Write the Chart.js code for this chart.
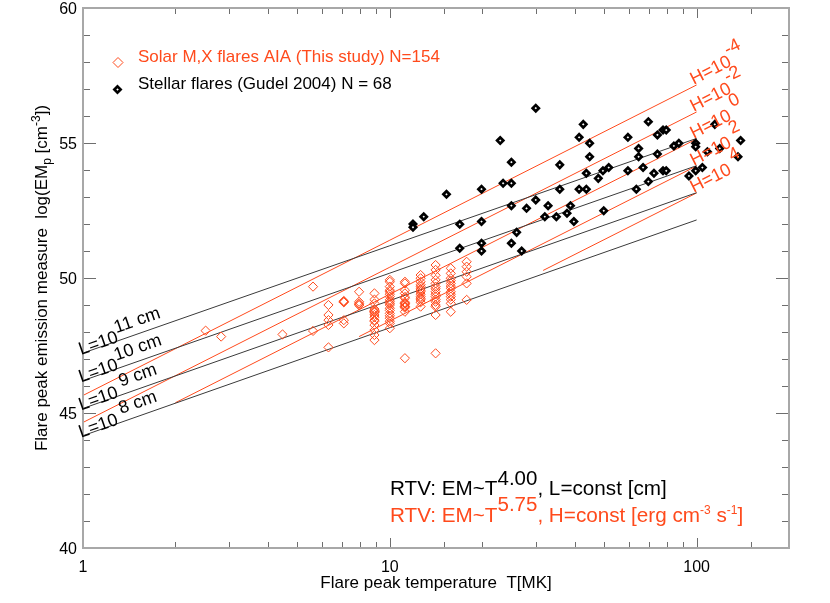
<!DOCTYPE html>
<html>
<head>
<meta charset="utf-8">
<script src="https://cdn.jsdelivr.net/npm/chart.js@4.4.0/dist/chart.umd.min.js"></script>
<style>
    html, body { margin: 0; padding: 0; background: #fff; }
    #wrap { width: 830px; height: 603px; }
</style>
</head>
<body>
<div id="wrap"><canvas id="emChart" width="830" height="603"></canvas></div>
<script>
// ============= Data =============
// Solar M,X flares (AIA): temperature columns [MK] and log EM values in each column
const solarTemps = [2.51, 2.82, 4.47, 5.62, 6.31, 7.08, 7.94, 8.91, 10.0, 11.2, 12.6, 14.1, 15.8, 17.8];
const solarEM = [
    [48.05],
    [47.83],
    [47.91],
    [49.68, 48.04],
    [49.0, 48.63, 48.44, 48.26, 47.43],
    [49.12, 49.12, 49.15, 49.1, 48.44, 48.32],
    [49.49, 49.12, 49.06, 49.0, 49.0],
    [49.43, 49.2, 49.06, 48.85, 48.8, 48.75, 48.75, 48.72, 48.63, 48.55, 48.44, 48.4, 48.26, 48.07, 47.89, 47.7],
    [49.93, 49.86, 49.68, 49.55, 49.49, 49.4, 49.31, 49.19, 49.12, 49.06, 49.0, 48.88, 48.8, 48.69, 48.6, 48.51, 48.4, 48.32, 48.14],
    [49.86, 49.8, 49.55, 49.43, 49.3, 49.25, 49.1, 49.06, 49.06, 49.0, 48.94, 48.94, 48.9, 48.75, 47.03],
    [50.11, 49.99, 49.86, 49.75, 49.68, 49.6, 49.55, 49.49, 49.4, 49.31, 49.25, 49.19, 49.1, 48.94],
    [50.48, 50.3, 50.1, 49.93, 49.8, 49.68, 49.6, 49.49, 49.4, 49.31, 49.2, 49.12, 49.0, 48.94, 48.63, 47.21],
    [50.36, 50.17, 49.99, 49.9, 49.8, 49.7, 49.62, 49.49, 49.4, 49.31, 49.2, 49.06, 48.75],
    [50.6, 50.42, 50.23, 50.05, 49.8, 49.19]
];

// Stellar flares (Gudel 2004)
const stellarT = [11.9, 11.9, 12.9, 15.3, 16.9, 16.9, 19.9, 19.9, 19.9, 19.9, 22.9, 23.4, 24.9, 24.9, 24.9, 24.9,
    25.9, 26.9, 27.9, 29.9, 29.9, 32.0, 32.8, 34.9, 35.8, 35.8, 37.8, 38.8, 39.8, 41.4, 41.4, 42.7, 44.8, 44.8,
    43.7, 43.7, 47.8, 49.5, 51.7, 49.8, 59.7, 59.7, 63.6, 64.7, 64.7, 66.9, 69.6, 69.6, 72.6, 74.5, 74.5, 77.7,
    79.6, 77.7, 79.6, 84.3, 87.5, 94.4, 99.3, 99.3, 99.3, 104.4, 108.4, 114.6, 118.9, 136.4, 139.1];
const stellarEM = [52.0, 51.88, 52.27, 53.1, 51.99, 51.1, 53.29, 52.09, 51.29, 51.0, 55.09, 53.51, 54.29, 53.51, 52.68, 51.29,
    51.69, 51.0, 52.58, 52.89, 56.29, 52.27, 52.68, 52.27, 54.19, 53.29, 52.4, 52.68, 52.09, 55.21, 53.29, 55.69, 54.99, 54.49,
    53.88, 53.29, 53.69, 53.97, 54.09, 52.49, 55.21, 53.97, 53.29, 54.8, 54.49, 54.09, 55.79, 53.57, 53.88, 55.3, 54.59, 55.48,
    55.48, 53.97, 53.97, 54.89, 54.99, 53.78, 54.99, 54.86, 53.97, 54.09, 54.68, 55.69, 54.8, 54.49, 55.09];

// RTV scaling, L = const (EM ~ T^4)
const lengthExp = ['11', '10', ' 9', ' 8'];
const lengthT = [1, 100];
const lengthStartEM = [47.22, 46.2, 45.17, 44.16];
const lengthEndEM = [55.17, 54.16, 53.16, 52.15];

// RTV scaling, H = const (EM ~ T^5.75)
const heatExp = ['-4', '-2', ' 0', ' 2', ' 4'];
const heatStartT = [1, 1, 2.0, 7.94, 31.6];
const heatStartEM = [45.65, 44.65, 45.38, 47.83, 50.28];
const heatEndT = 100;
const heatEndEM = [57.15, 56.15, 55.15, 54.15, 53.15];

const xRange = [1, 200];
const yRange = [40, 60];

// ============= Styles =============
const FONT = '"Liberation Sans", Arial, Helvetica, sans-serif';
const RED = '#ff4a1c';
const LINE_BLACK = '#3a3a3a';
const AXIS_LINE = '#a8a8a8';
const AXIS_TICK = '#6e6e6e';

Chart.defaults.font.family = FONT;
Chart.defaults.font.size = 17;
Chart.defaults.color = '#000';

function isDecade(v) {
    const lv = Math.log10(v);
    return Math.abs(lv - Math.round(lv)) < 1e-9;
}

// draws text pieces one after another (superscripts / subscripts via dy)
function drawRich(ctx, x, y, parts, angle, align) {
    ctx.save();
    ctx.translate(x, y);
    ctx.rotate(angle || 0);
    ctx.textBaseline = 'alphabetic';
    ctx.textAlign = 'left';
    let total = 0;
    parts.forEach(p => {
        ctx.font = (p.size || 17) + 'px ' + FONT;
        total += ctx.measureText(p.t).width;
    });
    let cx = align === 'center' ? -total / 2 : align === 'right' ? -total : 0;
    parts.forEach(p => {
        ctx.font = (p.size || 17) + 'px ' + FONT;
        ctx.fillStyle = p.color || '#000';
        ctx.fillText(p.t, cx, p.dy || 0);
        cx += ctx.measureText(p.t).width;
    });
    ctx.restore();
}

// ============= Datasets =============
const solarPoints = [];
solarTemps.forEach((t, i) => solarEM[i].forEach(em => solarPoints.push({ x: t, y: em })));
const stellarPoints = stellarT.map((t, i) => ({ x: t, y: stellarEM[i] }));

const datasets = [
    {
        label: 'Stellar flares (Gudel 2004) N = 68',
        data: stellarPoints,
        pointStyle: 'rectRot',
        pointRadius: 3.1,
        borderWidth: 2.7,
        borderColor: '#000',
        backgroundColor: '#fff'
    },
    {
        label: 'Solar M,X flares AIA (This study) N=154',
        data: solarPoints,
        pointStyle: 'rectRot',
        pointRadius: 4.6,
        borderWidth: 1,
        borderColor: RED,
        backgroundColor: 'rgba(0,0,0,0)'
    }
];
lengthExp.forEach((e, i) => datasets.push({
    label: 'L=10^' + e.trim(),
    data: [{ x: lengthT[0], y: lengthStartEM[i] }, { x: lengthT[1], y: lengthEndEM[i] }],
    showLine: true, pointRadius: 0, borderColor: LINE_BLACK, borderWidth: 1
}));
heatExp.forEach((e, i) => datasets.push({
    label: 'H=10^' + e.trim(),
    data: [{ x: heatStartT[i], y: heatStartEM[i] }, { x: heatEndT, y: heatEndEM[i] }],
    showLine: true, pointRadius: 0, borderColor: RED, borderWidth: 1
}));

// ============= Frame, labels and annotations =============
const annotations = {
    id: 'annotations',
    afterDraw(chart) {
        const { ctx, chartArea: a, scales: { x, y } } = chart;
        ctx.save();

        // inward ticks on all four sides
        ctx.strokeStyle = AXIS_TICK;
        ctx.lineWidth = 1;
        ctx.beginPath();
        x.ticks.forEach(t => {
            if (t.value >= xRange[1]) return;
            const px = Math.round(x.getPixelForValue(t.value)) + 0.5;
            const len = isDecade(t.value) ? 10 : 6;
            ctx.moveTo(px, a.bottom); ctx.lineTo(px, a.bottom - len);
            ctx.moveTo(px, a.top); ctx.lineTo(px, a.top + len);
        });
        y.ticks.forEach(t => {
            const py = Math.round(y.getPixelForValue(t.value)) + 0.5;
            const len = t.value % 5 === 0 ? 13 : 7;
            ctx.moveTo(a.left, py); ctx.lineTo(a.left + len, py);
            ctx.moveTo(a.right, py); ctx.lineTo(a.right - len, py);
        });
        ctx.stroke();

        // frame
        ctx.strokeStyle = AXIS_LINE;
        ctx.lineWidth = 2;
        ctx.strokeRect(a.left, a.top, a.right - a.left, a.bottom - a.top);
        ctx.restore();

        // tick labels
        x.ticks.forEach(t => {
            if (!isDecade(t.value)) return;
            drawRich(ctx, x.getPixelForValue(t.value), a.bottom + 24, [{ t: String(t.value), size: 16 }], 0, 'center');
        });
        y.ticks.forEach(t => {
            if (t.value % 5 !== 0) return;
            drawRich(ctx, a.left - 6, y.getPixelForValue(t.value) + 6, [{ t: String(t.value), size: 16 }], 0, 'right');
        });

        // axis titles
        drawRich(ctx, (a.left + a.right) / 2, 588, [{ t: 'Flare peak temperature  T[MK]' }], 0, 'center');
        drawRich(ctx, 47, (a.top + a.bottom) / 2, [
            { t: 'Flare peak emission measure  log(EM' },
            { t: 'p', size: 12, dy: 4 },
            { t: ' [cm' },
            { t: '-3', size: 12, dy: -7 },
            { t: '])' }
        ], -Math.PI / 2, 'center');

        // L=const labels at the left end of each black line
        lengthExp.forEach((e, i) => {
            const x0 = x.getPixelForValue(lengthT[0]), y0 = y.getPixelForValue(lengthStartEM[i]);
            const x1 = x.getPixelForValue(lengthT[1]), y1 = y.getPixelForValue(lengthEndEM[i]);
            const ang = Math.atan2(y1 - y0, x1 - x0);
            drawRich(ctx, x0 - 2, y0 + 2, [{ t: 'L=10', size: 18 }, { t: e + ' cm', size: 18, dy: -9 }], ang);
        });

        // H=const labels at the right end of each red line
        heatExp.forEach((e, i) => {
            const x0 = x.getPixelForValue(heatStartT[i]), y0 = y.getPixelForValue(heatStartEM[i]);
            const x1 = x.getPixelForValue(heatEndT), y1 = y.getPixelForValue(heatEndEM[i]);
            const ang = Math.atan2(y1 - y0, x1 - x0);
            drawRich(ctx, x1 - 3, y1, [{ t: 'H=10', size: 18, color: RED }, { t: e, size: 18, dy: -11, color: RED }], ang);
        });

        // legend
        ctx.save();
        ctx.lineWidth = 1;
        ctx.strokeStyle = RED;
        ctx.beginPath();
        ctx.moveTo(118, 57.5); ctx.lineTo(123, 62.5); ctx.lineTo(118, 67.5); ctx.lineTo(113, 62.5); ctx.closePath();
        ctx.stroke();
        ctx.lineWidth = 2.7;
        ctx.strokeStyle = '#000';
        ctx.fillStyle = '#fff';
        ctx.beginPath();
        ctx.moveTo(117.5, 86.4); ctx.lineTo(120.6, 89.5); ctx.lineTo(117.5, 92.6); ctx.lineTo(114.4, 89.5); ctx.closePath();
        ctx.fill(); ctx.stroke();
        ctx.restore();
        drawRich(ctx, 138, 62, [{ t: datasets[1].label, color: RED }]);
        drawRich(ctx, 138, 89, [{ t: datasets[0].label }]);

        // RTV scaling notes
        drawRich(ctx, 390, 495, [
            { t: 'RTV: EM~T', size: 20.7 },
            { t: '4.00', size: 20.5, dy: -10 },
            { t: ', L=const [cm]', size: 20.7 }
        ]);
        drawRich(ctx, 390, 522, [
            { t: 'RTV: EM~T', size: 20.7, color: RED },
            { t: '5.75', size: 20.5, dy: -11, color: RED },
            { t: ', H=const [erg cm', size: 20.7, color: RED },
            { t: '-3', size: 12, dy: -8, color: RED },
            { t: ' s', size: 20.7, color: RED },
            { t: '-1', size: 12, dy: -8, color: RED },
            { t: ']', size: 20.7, color: RED }
        ]);
    }
};

// ============= Chart =============
new Chart(document.getElementById('emChart'), {
    type: 'scatter',
    data: { datasets },
    options: {
        responsive: false,
        animation: false,
        devicePixelRatio: 1,
        layout: { padding: { left: 0, right: 41, top: 8, bottom: 0 } },
        plugins: { legend: { display: false }, tooltip: { enabled: false } },
        scales: {
            x: {
                type: 'logarithmic',
                min: xRange[0],
                max: xRange[1],
                grid: { display: false },
                border: { display: false },
                afterFit: s => { s.height = 55; },
                ticks: { display: false, autoSkip: false }
            },
            y: {
                min: yRange[0],
                max: yRange[1],
                grid: { display: false },
                border: { display: false },
                afterFit: s => { s.width = 83; },
                ticks: { display: false, autoSkip: false, stepSize: 1 }
            }
        }
    },
    plugins: [annotations]
});
</script>
</body>
</html>
